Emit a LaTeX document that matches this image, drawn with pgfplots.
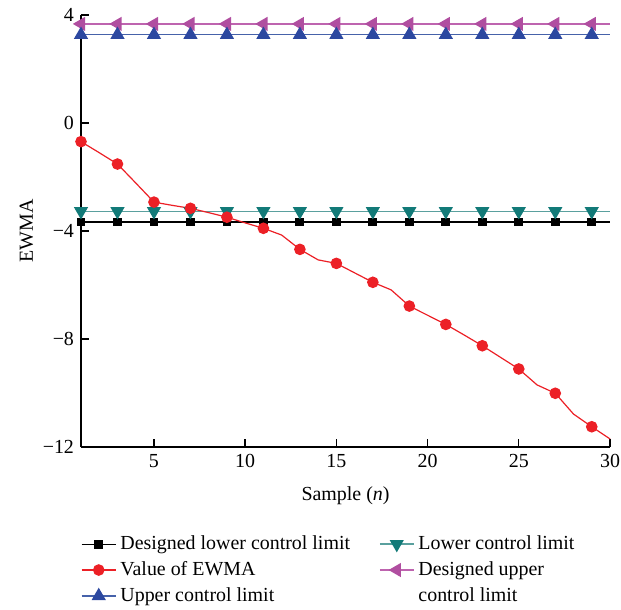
\documentclass[border=0pt]{standalone}
\usepackage{pgfplots}
\pgfplotsset{compat=1.18}
\usepackage{pgfplotstable}
\usepackage{fontspec}
\setmainfont{Liberation Serif}
\definecolor{cred}{RGB}{236,32,38}
\definecolor{cblue}{RGB}{44,72,160}
\definecolor{cbluel}{RGB}{70,98,170}
\definecolor{cmag}{RGB}{176,78,160}
\definecolor{cmagl}{RGB}{190,100,175}
\definecolor{cteal}{RGB}{18,122,120}
\definecolor{ctealL}{RGB}{90,160,158}
\pgfplotstableread{
x dlcl lcl ewma ducl ucl
1 -3.67 -3.27 -0.69 3.67 3.27
2 -3.67 -3.27 -1.10 3.67 3.27
3 -3.67 -3.27 -1.52 3.67 3.27
4 -3.67 -3.27 -2.22 3.67 3.27
5 -3.67 -3.27 -2.93 3.67 3.27
6 -3.67 -3.27 -3.05 3.67 3.27
7 -3.67 -3.27 -3.16 3.67 3.27
8 -3.67 -3.27 -3.32 3.67 3.27
9 -3.67 -3.27 -3.49 3.67 3.27
10 -3.67 -3.27 -3.70 3.67 3.27
11 -3.67 -3.27 -3.90 3.67 3.27
12 -3.67 -3.27 -4.15 3.67 3.27
13 -3.67 -3.27 -4.68 3.67 3.27
14 -3.67 -3.27 -5.07 3.67 3.27
15 -3.67 -3.27 -5.20 3.67 3.27
16 -3.67 -3.27 -5.55 3.67 3.27
17 -3.67 -3.27 -5.90 3.67 3.27
18 -3.67 -3.27 -6.18 3.67 3.27
19 -3.67 -3.27 -6.78 3.67 3.27
20 -3.67 -3.27 -7.12 3.67 3.27
21 -3.67 -3.27 -7.46 3.67 3.27
22 -3.67 -3.27 -7.85 3.67 3.27
23 -3.67 -3.27 -8.25 3.67 3.27
24 -3.67 -3.27 -8.68 3.67 3.27
25 -3.67 -3.27 -9.11 3.67 3.27
26 -3.67 -3.27 -9.70 3.67 3.27
27 -3.67 -3.27 -10.01 3.67 3.27
28 -3.67 -3.27 -10.78 3.67 3.27
29 -3.67 -3.27 -11.25 3.67 3.27
30 -3.67 -3.27 -11.70 3.67 3.27
}\datatable
\begin{document}
\begin{tikzpicture}
\begin{axis}[
  at={(0,0)}, anchor=south west,
  scale only axis, width=264.5bp, height=216bp,
  xmin=1, xmax=30, ymin=-12, ymax=4,
  axis x line*=bottom, axis y line*=left,
  axis line style={line width=0.8bp},
  tick align=inside, major tick length=4bp,
  tick style={line width=0.7bp, black},
  xtick={5,10,15,20,25,30},
  ytick={-12,-8,-4,0,4},
  yticklabels={−12,−8,−4,0,4},
  /pgf/number format/assume math mode=true,
  ticklabel style={font=\fontsize{10}{12}\selectfont},
  label style={font=\fontsize{10}{12}\selectfont},
  xlabel={Sample (\textit{n})},
  ylabel={EWMA},
  xlabel style={yshift=-3bp},
  ylabel style={yshift=-2bp},
  clip=false,
  legend columns=2,
  legend cell align=left,
  legend style={at={(axis description cs:-0.012,-0.186)}, anchor=north west,
    draw=none, fill=none, font=\fontsize{10}{12}\selectfont,
    /tikz/every even column/.append style={column sep=12.5bp},
    row sep=0.5bp},
]
\addplot[black, line width=0.6bp, mark=square*, mark size=1.9bp, mark repeat=2,
  mark options={fill=black}] table[x=x,y=dlcl]{\datatable};
\addlegendentry{Designed lower control limit}
\addplot[ctealL, line width=0.7bp, mark=triangle*, mark size=3.4bp, mark repeat=2,
  mark options={rotate=180, fill=cteal, draw=cteal}] table[x=x,y=lcl]{\datatable};
\addlegendentry{Lower control limit}
\addplot[cred, line width=0.6bp, mark=*, mark size=2.6bp, mark repeat=2,
  mark options={fill=cred, draw=cred}] table[x=x,y=ewma]{\datatable};
\addlegendentry{Value of EWMA}
\addplot[cmagl, line width=0.7bp, mark=triangle*, mark size=3.4bp, mark repeat=2,
  mark options={rotate=90, fill=cmag, draw=cmag}] table[x=x,y=ducl]{\datatable};
\addlegendentry{Designed upper}
\addplot[cbluel, line width=0.7bp, mark=triangle*, mark size=3.4bp, mark repeat=2,
  mark options={fill=cblue, draw=cblue}] table[x=x,y=ucl]{\datatable};
\addlegendentry{Upper control limit}
\addlegendimage{empty legend}
\addlegendentry{control limit}
\end{axis}
\pgfresetboundingbox
\path[use as bounding box] (-40.5bp,-81.5bp) rectangle (270bp,223.5bp);
\end{tikzpicture}
\end{document}
